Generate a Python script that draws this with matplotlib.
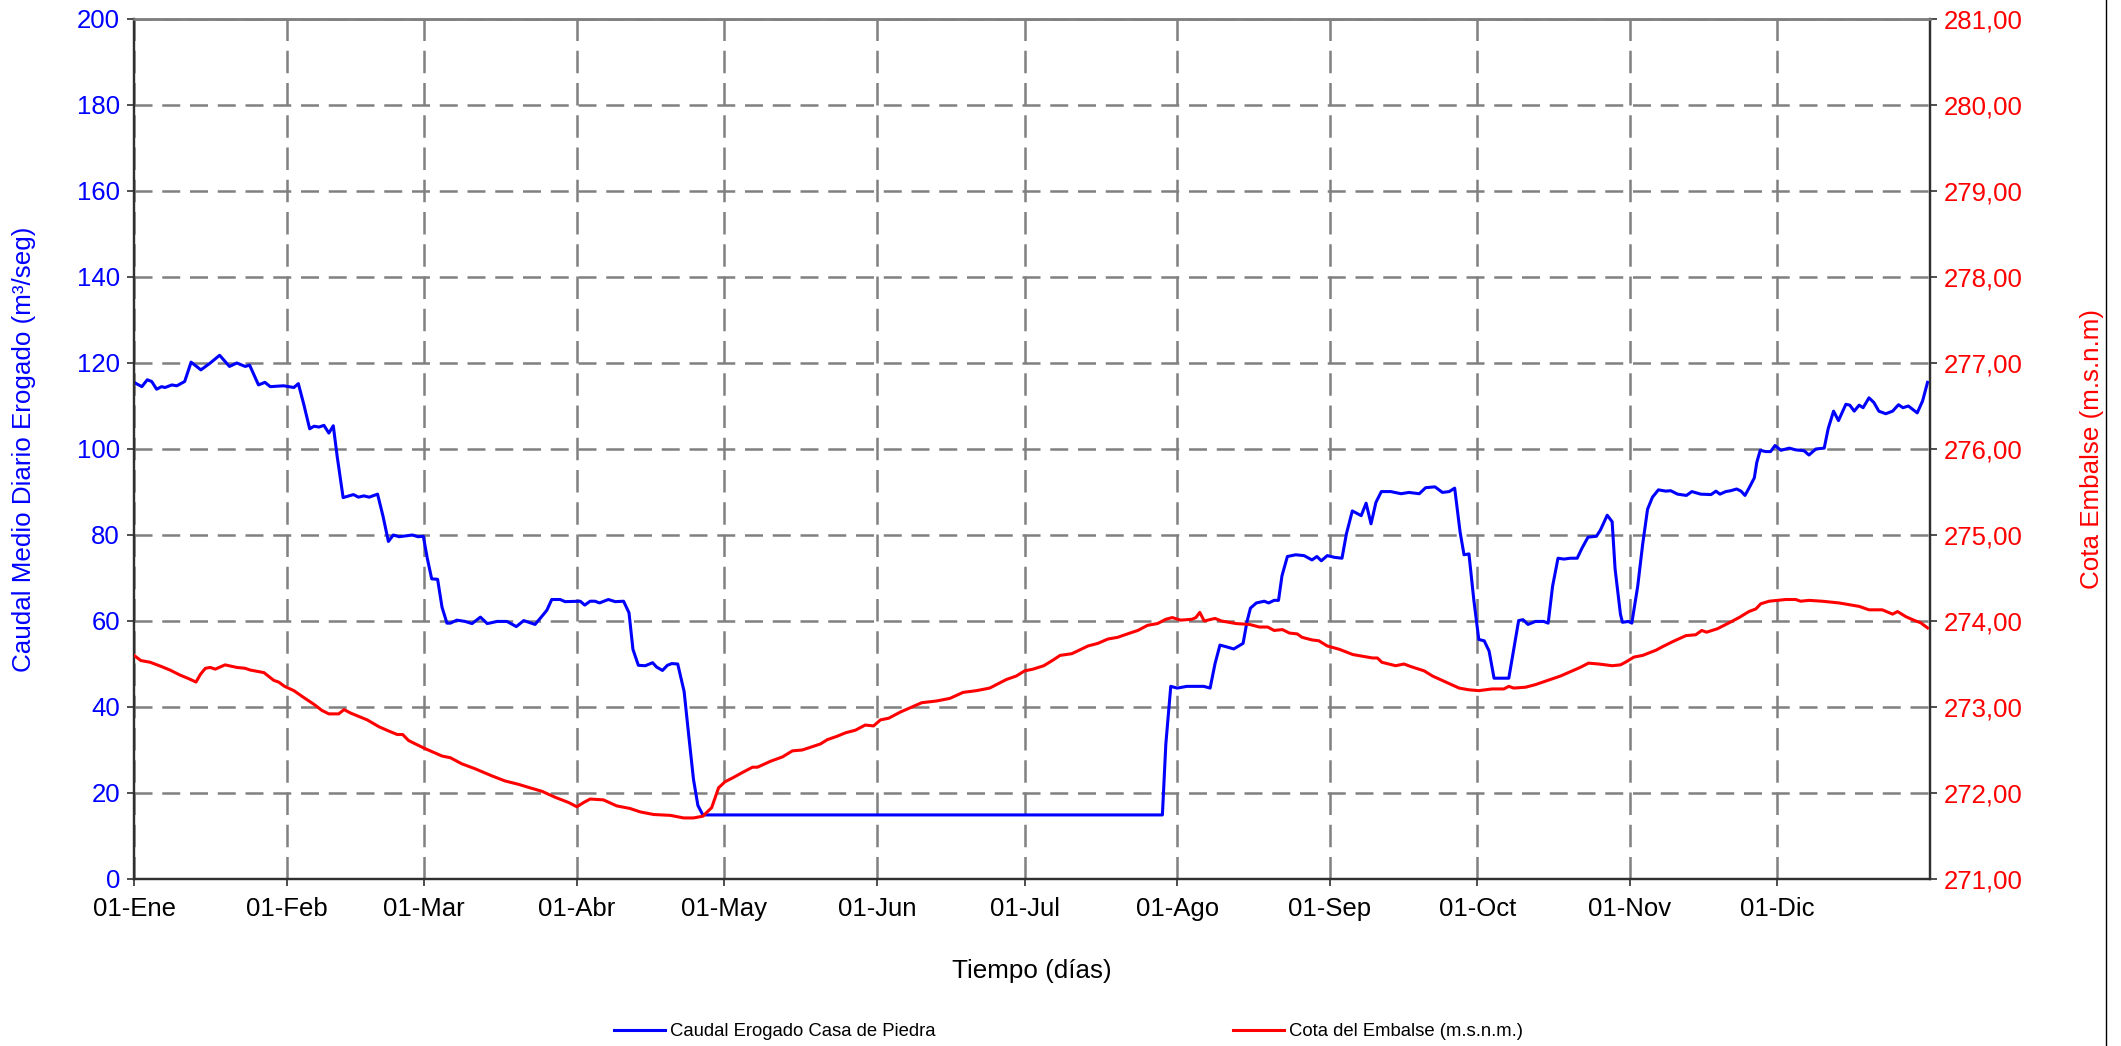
import matplotlib
matplotlib.use("Agg")
import matplotlib.pyplot as plt
from matplotlib.lines import Line2D

plt.rcParams['font.family'] = ['Liberation Sans', 'DejaVu Sans']

# ---------------- data ----------------
mes_dias = [0, 31, 59, 90, 120, 151, 181, 212, 243, 273, 304, 334]
mes_etiquetas = ['01-Ene', '01-Feb', '01-Mar', '01-Abr', '01-May', '01-Jun',
                 '01-Jul', '01-Ago', '01-Sep', '01-Oct', '01-Nov', '01-Dic']

caudal_ticks = [0, 20, 40, 60, 80, 100, 120, 140, 160, 180, 200]
cota_ticks = [271, 272, 273, 274, 275, 276, 277, 278, 279, 280, 281]
cota_etiquetas = ['271,00', '272,00', '273,00', '274,00', '275,00', '276,00',
                  '277,00', '278,00', '279,00', '280,00', '281,00']

dias_caudal = [
    0, 1.6, 2.7, 3.6, 4.6, 5.6, 6.3, 7.7, 8.7, 10.3, 11.6, 13.6, 15.5, 17.4, 19.4,
    20.9, 22.6, 23.5, 25.3, 26.6, 27.7, 30.4, 32.5, 33.4, 34.5, 35.7, 36.6, 37.6,
    38.6, 39.6, 40.5, 41.3, 42.5, 44.6, 45.6, 46.7, 47.8, 49.5, 50.6, 51.7, 52.7,
    53.9, 56.6, 57.7, 58.8, 59.6, 60.5, 61.7, 62.6, 63.6, 64.3, 65.6, 67.3, 68.7,
    70.4, 71.8, 73.8, 75.8, 77.7, 79.2, 81.5, 82.9, 83.9, 84.9, 86.6, 87.6, 90.7,
    91.6, 92.7, 93.7, 94.6, 96.4, 97.8, 99.5, 100.6, 101.4, 102.5, 103.9, 105.4,
    106.2, 107.4, 108.4, 109.3, 110.5, 111.8, 112.7, 113.7, 114.6, 115.6, 209.0,
    209.7, 210.7, 212.0, 214.0, 217.4, 218.7, 219.7, 220.7, 222.0, 223.5, 225.4,
    226.2, 226.9, 228.1, 229.7, 230.6, 231.7, 232.6, 233.3, 234.4, 236.1, 237.8,
    239.4, 240.4, 241.3, 242.5, 244.0, 245.5, 246.4, 247.6, 249.4, 250.4, 251.4,
    252.4, 253.5, 255.4, 257.5, 259.1, 261.2, 262.5, 264.4, 265.9, 267.3, 268.4,
    269.5, 270.3, 271.3, 272.3, 273.3, 274.4, 275.4, 276.4, 277.4, 279.4, 280.4,
    281.4, 282.3, 283.3, 284.8, 286.5, 287.4, 288.3, 289.4, 290.6, 291.9, 293.3,
    294.3, 295.5, 297.2, 298.0, 299.4, 300.4, 301.0, 302.1, 302.5, 303.7, 304.4,
    305.6, 306.6, 307.6, 308.6, 309.8, 311.3, 312.3, 313.7, 315.5, 316.6, 318.4,
    320.5, 321.5, 322.3, 323.5, 324.5, 325.7, 326.6, 327.4, 328.4, 329.3, 329.8,
    330.5, 331.6, 332.6, 333.5, 334.7, 336.4, 337.7, 339.4, 340.4, 341.8, 343.5,
    344.3, 345.4, 346.4, 347.9, 348.7, 349.6, 350.6, 351.4, 352.6, 353.6, 354.6,
    356.0, 357.4, 358.6, 359.5, 360.6, 362.4, 363.5, 364.5]

caudal = [
    115.5, 114.5, 116.1, 115.7, 113.9, 114.5, 114.3, 114.9, 114.7, 115.7, 120.2,
    118.4, 120.0, 121.8, 119.2, 120.0, 119.2, 119.5, 114.9, 115.5, 114.5, 114.7,
    114.3, 115.2, 110.4, 104.7, 105.3, 105.1, 105.5, 103.7, 105.4, 98.2, 88.7,
    89.4, 88.8, 89.1, 88.8, 89.5, 84.4, 78.5, 80.0, 79.6, 80.0, 79.6, 79.7, 74.6,
    69.8, 69.7, 63.2, 59.5, 59.5, 60.2, 59.9, 59.4, 60.9, 59.4, 59.9, 59.9, 58.7,
    60.1, 59.2, 61.1, 62.5, 65.0, 65.0, 64.5, 64.6, 63.7, 64.6, 64.6, 64.2, 65.0,
    64.5, 64.6, 61.9, 53.4, 49.7, 49.6, 50.3, 49.3, 48.5, 49.7, 50.1, 50.0, 43.6,
    33.8, 23.2, 17.1, 14.9, 14.9, 31.4, 44.8, 44.4, 44.8, 44.8, 44.4, 50.1, 54.4,
    54.0, 53.5, 54.8, 59.9, 63.0, 64.2, 64.6, 64.2, 64.8, 64.8, 70.5, 75.0, 75.4,
    75.2, 74.2, 75.0, 74.0, 75.2, 74.8, 74.6, 80.3, 85.6, 84.5, 87.4, 82.6, 87.6,
    90.1, 90.1, 89.6, 89.9, 89.6, 91.0, 91.2, 89.9, 90.1, 90.9, 80.7, 75.4, 75.6,
    64.8, 55.7, 55.4, 53.0, 46.7, 46.7, 46.7, 53.4, 60.1, 60.3, 59.2, 59.9, 59.9,
    59.5, 68.1, 74.6, 74.4, 74.6, 74.6, 77.0, 79.5, 79.7, 81.1, 84.6, 83.1, 72.1,
    61.5, 59.7, 59.9, 59.5, 68.1, 77.8, 86.0, 88.8, 90.5, 90.2, 90.3, 89.5, 89.2,
    90.1, 89.5, 89.4, 90.2, 89.5, 90.1, 90.3, 90.7, 90.2, 89.2, 91.3, 93.3, 96.9,
    99.7, 99.4, 99.4, 100.8, 99.7, 100.2, 99.8, 99.6, 98.6, 100.0, 100.2, 104.7,
    108.8, 106.6, 110.4, 110.2, 108.8, 110.2, 109.6, 111.9, 110.8, 108.8, 108.2,
    108.8, 110.3, 109.6, 110.0, 108.4, 111.2, 115.5]

dias_cota = [
    0, 1.4, 3.3, 5.6, 7.3, 9.4, 11.1, 12.6, 13.5, 14.5, 15.5, 16.5, 18.5, 20.9,
    22.6, 23.6, 26.4, 28.4, 29.4, 30.6, 32.5, 34.5, 36.6, 38.2, 39.6, 41.6, 42.7,
    44.0, 47.4, 49.8, 51.8, 53.5, 54.6, 55.8, 59.0, 62.6, 64.3, 66.6, 69.4, 72.7,
    75.4, 78.2, 80.5, 82.9, 85.6, 88.3, 90.0, 91.4, 92.7, 95.4, 98.1, 100.8, 102.9,
    105.6, 109.0, 111.7, 113.7, 115.6, 117.4, 118.8, 120.1, 121.8, 123.7, 125.7,
    126.7, 129.4, 131.8, 133.8, 135.8, 139.5, 140.9, 142.9, 144.6, 146.6, 148.6,
    150.3, 151.7, 153.4, 155.7, 157.7, 160.1, 163.1, 165.8, 168.5, 171.2, 173.9,
    177.3, 179.3, 181.0, 182.7, 184.9, 186.9, 188.2, 190.6, 193.9, 195.9, 197.9,
    199.9, 201.9, 204.0, 206.0, 208.0, 209.7, 211.0, 212.7, 215.0, 215.8, 216.6,
    217.5, 219.7, 221.0, 224.0, 226.7, 228.7, 230.4, 231.7, 233.4, 234.8, 236.4,
    237.4, 239.4, 240.8, 242.5, 245.0, 247.7, 249.7, 251.7, 252.7, 253.6, 256.4,
    258.1, 259.5, 262.2, 263.9, 266.2, 269.3, 271.3, 273.3, 276.0, 278.4, 279.4,
    280.4, 282.8, 284.8, 287.9, 289.9, 292.3, 293.9, 295.6, 297.7, 300.4, 302.1,
    303.4, 304.8, 306.6, 309.3, 310.6, 312.7, 315.4, 317.4, 318.6, 319.6, 321.8,
    324.2, 326.2, 328.2, 329.6, 330.6, 332.3, 334.0, 335.7, 337.7, 338.7, 340.4,
    343.1, 346.5, 348.6, 350.6, 352.6, 355.3, 357.4, 358.4, 360.1, 362.1, 363.1,
    364.5]

cota = [
    273.60, 273.54, 273.52, 273.47, 273.43, 273.37, 273.33, 273.29, 273.38, 273.45,
    273.46, 273.44, 273.49, 273.46, 273.45, 273.43, 273.40, 273.31, 273.29, 273.24,
    273.19, 273.11, 273.03, 272.96, 272.92, 272.92, 272.97, 272.93, 272.85, 272.77,
    272.72, 272.68, 272.68, 272.61, 272.52, 272.43, 272.41, 272.34, 272.28, 272.20,
    272.14, 272.10, 272.06, 272.02, 271.95, 271.89, 271.84, 271.89, 271.93, 271.92,
    271.85, 271.82, 271.78, 271.75, 271.74, 271.71, 271.71, 271.73, 271.83, 272.06,
    272.13, 272.18, 272.24, 272.30, 272.30, 272.37, 272.42, 272.49, 272.50, 272.57,
    272.62, 272.66, 272.70, 272.73, 272.79, 272.78, 272.85, 272.87, 272.94, 272.99,
    273.05, 273.07, 273.10, 273.17, 273.19, 273.22, 273.32, 273.36, 273.42, 273.44,
    273.48, 273.55, 273.60, 273.62, 273.71, 273.74, 273.79, 273.81, 273.85, 273.89,
    273.95, 273.97, 274.02, 274.04, 274.01, 274.02, 274.04, 274.10, 274.00, 274.03,
    274.00, 273.97, 273.96, 273.93, 273.93, 273.89, 273.90, 273.86, 273.85, 273.81,
    273.78, 273.77, 273.71, 273.67, 273.61, 273.59, 273.57, 273.57, 273.52, 273.48,
    273.50, 273.47, 273.42, 273.36, 273.30, 273.22, 273.20, 273.19, 273.21, 273.21,
    273.24, 273.22, 273.23, 273.26, 273.32, 273.36, 273.42, 273.46, 273.51, 273.50,
    273.48, 273.49, 273.53, 273.58, 273.60, 273.66, 273.70, 273.76, 273.83, 273.84,
    273.89, 273.87, 273.91, 273.98, 274.04, 274.11, 274.14, 274.20, 274.23, 274.24,
    274.25, 274.25, 274.23, 274.24, 274.23, 274.21, 274.19, 274.17, 274.13, 274.13,
    274.08, 274.11, 274.05, 274.00, 273.98, 273.92]

# ---------------- figure ----------------
W, H = 2121, 1046
fig = plt.figure(figsize=(W / 100, H / 100), dpi=100)
L, R, T, B = 134, 1930, 19, 879
ax = fig.add_axes([L / W, 1 - B / H, (R - L) / W, (B - T) / H])
ax2 = ax.twinx()

ax.set_xlim(0, 365)
ax.set_ylim(0, 200)
ax2.set_ylim(271, 281)

grid_col = '#808080'
ax.set_axisbelow(True)
ax.yaxis.grid(True, color=grid_col, linewidth=1.8, linestyle=(0, (7.2, 3.9)))
ax.xaxis.grid(True, color=grid_col, linewidth=1.8, linestyle=(0, (9.0, 3.9)))

l1, = ax.plot(dias_caudal, caudal, color='#0000FF', linewidth=2.2, zorder=3)
l2, = ax2.plot(dias_cota, cota, color='#FF0000', linewidth=2.2, zorder=3)

ax.set_xticks(mes_dias)
ax.set_xticklabels(mes_etiquetas)
ax.set_yticks(caudal_ticks)
ax2.set_yticks(cota_ticks)
ax2.set_yticklabels(cota_etiquetas)

spine_col = '#303030'
for a in (ax, ax2):
    for s in ('left', 'right', 'bottom'):
        a.spines[s].set_color(spine_col)
        a.spines[s].set_linewidth(1.6)
    a.spines['top'].set_color(grid_col)
    a.spines['top'].set_linewidth(1.8)

tick_fs = 18.5
ax.tick_params(axis='x', direction='out', length=5, width=1.2, color=spine_col,
               labelsize=tick_fs, pad=8, labelcolor='black')
ax.tick_params(axis='y', direction='out', length=5, width=1.2, color=spine_col,
               labelsize=tick_fs, pad=5, labelcolor='#0000FF')
ax2.tick_params(axis='y', direction='out', length=5, width=1.2, color=spine_col,
                labelsize=tick_fs, pad=5, labelcolor='#FF0000')

ax.set_ylabel('Caudal Medio Diario Erogado (m³/seg)', color='#0000FF', fontsize=18.7)
ax.yaxis.set_label_coords((24 - L) / (R - L), 0.5)
ax2.set_ylabel('Cota Embalse (m.s.n.m)', color='#FF0000', fontsize=18.7)
ax2.yaxis.set_label_coords((2092 - L) / (R - L), 0.5)
ax2.yaxis.label.set_verticalalignment('center')
ax.yaxis.label.set_verticalalignment('center')

ax.set_xlabel('Tiempo (días)', fontsize=18.7, va='center')
ax.xaxis.set_label_coords(0.5, (B - 971) / (B - T))

leg_kw = dict(frameon=False, fontsize=13.3, handlelength=2.75, handletextpad=0.3,
              borderpad=0, borderaxespad=0, loc='center left')
fig.legend([l1], ['Caudal Erogado Casa de Piedra'],
           bbox_to_anchor=(614 / W, 1 - 1032 / H), **leg_kw)
fig.legend([l2], ['Cota del Embalse (m.s.n.m.)'],
           bbox_to_anchor=(1233 / W, 1 - 1032 / H), **leg_kw)

fig.add_artist(Line2D([2106 / W, 2106 / W], [0, 1], color='black', linewidth=1.0,
                      transform=fig.transFigure))

fig.savefig('out.png', dpi=100)
